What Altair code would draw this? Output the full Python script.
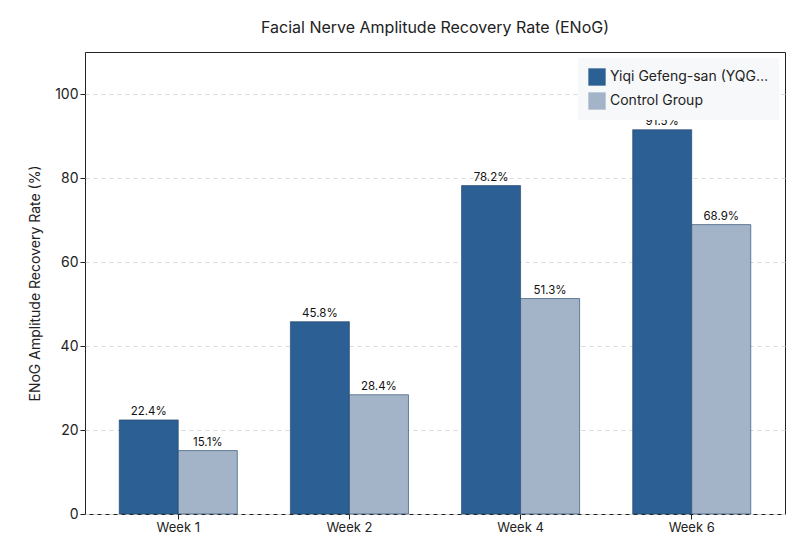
import pandas as pd
import altair as alt

weeks = ["Week 1", "Week 2", "Week 4", "Week 6"]
yqgfs = [22.4, 45.8, 78.2, 91.5]
control = [15.1, 28.4, 51.3, 68.9]
groups = ["Yiqi Gefeng-san (YQGFS)", "Control Group"]

rows = []
for w, a, b in zip(weeks, yqgfs, control):
    rows.append({"week": w, "group": groups[0], "rate": a})
    rows.append({"week": w, "group": groups[1], "rate": b})
df = pd.DataFrame(rows)
df["label"] = df["rate"].map(lambda v: f"{v:.1f}%")

x = alt.X("week:N", sort=weeks, title=None,
          scale=alt.Scale(paddingInner=0.31, paddingOuter=0.2),
          axis=alt.Axis(labelAngle=0, labelFontSize=13, labelColor="#222", tickColor="#222", domain=False))
xo = alt.XOffset("group:N", sort=groups)

base = alt.Chart(df).encode(x=x, xOffset=xo)

bars = base.mark_bar(stroke="#1f3f66", strokeWidth=0.6).encode(
    y=alt.Y("rate:Q", title="ENoG Amplitude Recovery Rate (%)",
            scale=alt.Scale(domain=[0, 110], nice=False),
            axis=alt.Axis(values=[0, 20, 40, 60, 80, 100], labelFontSize=14, titleFontSize=14,
                          titleFontWeight="normal",
                          labelColor="#222", titleColor="#222", tickColor="#222",
                          gridDash=[4, 4], gridColor="#d8d8d8", domain=False, titlePadding=12)),
    color=alt.Color("group:N", sort=groups, title=None,
                    scale=alt.Scale(domain=groups, range=["#2c5f93", "#a3b4c8"]),
                    legend=alt.Legend(orient="top-right", fillColor="#f7f8fa", labelFontSize=14,
                                      symbolType="square", symbolSize=300, padding=10,
                                      rowPadding=6, offset=6, symbolStrokeWidth=0, labelColor="#222")),
)

labels = base.mark_text(dy=-8, fontSize=11.5, color="#111").encode(
    y="rate:Q", text="label:N")

chart = alt.layer(bars, labels).properties(
    width=700, height=462,
    padding={"left": 20, "top": 12, "right": 5, "bottom": 5},
    title=alt.TitleParams("Facial Nerve Amplitude Recovery Rate (ENoG)", fontSize=16,
                          fontWeight="normal", color="#222", offset=16),
).configure(font="Inter").configure_view(stroke="#222", strokeWidth=1)

chart.save("out.html", embed_options={"renderer": "svg", "actions": False})
